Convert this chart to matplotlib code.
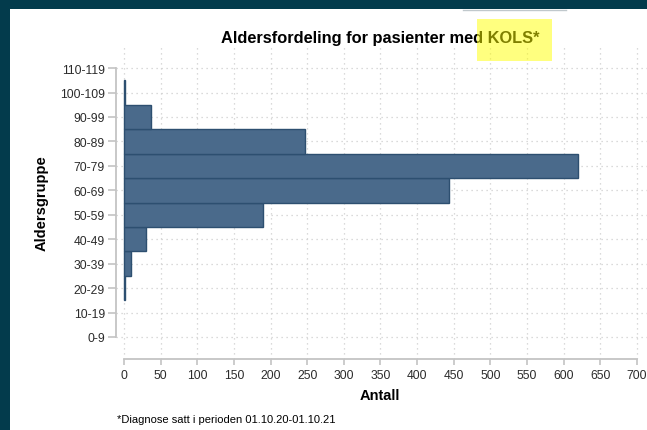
import matplotlib
matplotlib.use("Agg")
import matplotlib.pyplot as plt
from matplotlib.patches import Rectangle
from matplotlib.lines import Line2D

plt.rcParams['font.family'] = ['Liberation Sans', 'DejaVu Sans']

# ---- data ----
age_groups = ["0-9", "10-19", "20-29", "30-39", "40-49", "50-59",
              "60-69", "70-79", "80-89", "90-99", "100-109", "110-119"]
counts = [0, 0, 1, 9, 30, 190, 444, 619, 247, 37, 1, 0]
x_ticks = list(range(0, 701, 50))

title = "Aldersfordeling for pasienter med KOLS*"
xlabel = "Antall"
ylabel = "Aldersgruppe"
footnote = "*Diagnose satt i perioden 01.10.20-01.10.21"

W, H = 647, 431
fig = plt.figure(figsize=(W / 100, H / 100), dpi=100)
fig.patch.set_facecolor("white")

def fx(px):
    return px / W

def fy(py):
    return 1 - py / H

# axes placement (pixel coords)
left_px, right_px, top_px, bottom_px = 116, 647, 45, 360
ax = fig.add_axes([fx(left_px), fy(bottom_px), (right_px - left_px) / W, (bottom_px - top_px) / H])

xscale = 0.7327   # px per unit
x0_px = 124
yspace = 24.45
y0_px = 338
ax.set_xlim((left_px - x0_px) / xscale, (right_px - x0_px) / xscale)
ax.set_ylim((y0_px - bottom_px) / yspace, (y0_px - top_px) / yspace)

ypos = list(range(len(age_groups)))
edges = ["#2d4f70" if c > 0 else "none" for c in counts]
ax.barh(ypos, counts, height=1.0, color="#4a6a8b", edgecolor=edges, linewidth=1.0, zorder=3)

ax.set_xticks(x_ticks)
ax.set_yticks(ypos)
ax.set_yticklabels(age_groups)

ax.grid(True, linestyle=(0, (1, 3)), color="#cfcfcf", linewidth=0.9, zorder=0)
ax.set_axisbelow(True)

for s in ["top", "right"]:
    ax.spines[s].set_visible(False)
for s in ["left", "bottom"]:
    ax.spines[s].set_color("#c4c4c4")
    ax.spines[s].set_linewidth(1.3)
ax.spines["bottom"].set_bounds(0, 700)
ax.spines["left"].set_bounds(0, len(age_groups) - 1)

ax.tick_params(axis="x", direction="out", length=4, width=1.2, color="#c4c4c4",
               labelsize=8.7, labelcolor="#2b2b2b", pad=3)
ax.tick_params(axis="y", direction="out", length=6, width=1.2, color="#c4c4c4",
               labelsize=8.7, labelcolor="#2b2b2b", pad=2)

# texts
fig.text(fx(380), fy(38), title, ha="center", va="center", fontsize=11.8,
         fontweight="bold", color="black")
fig.text(fx(42), fy(203), ylabel, ha="center", va="center", rotation=90,
         fontsize=10.5, fontweight="bold", color="black")
fig.text(fx(380), fy(396), xlabel, ha="center", va="center", fontsize=10.5,
         fontweight="bold", color="black")
fig.text(fx(117), fy(420), footnote, ha="left", va="center", fontsize=8, color="black")

# yellow highlight over "KOLS*"
fig.add_artist(Rectangle((fx(477), fy(62)), (552 - 477) / W, (62 - 20) / H,
                         transform=fig.transFigure, facecolor="#ffff00", alpha=0.5,
                         edgecolor="none", zorder=10))

# dark frame on left and top
frame_col = "#033b4c"
fig.add_artist(Rectangle((0, 0), fx(10), 1, transform=fig.transFigure,
                         facecolor=frame_col, edgecolor="none", zorder=11))
fig.add_artist(Rectangle((0, fy(10)), 1, 10 / H, transform=fig.transFigure,
                         facecolor=frame_col, edgecolor="none", zorder=11))
fig.add_artist(Line2D([fx(463), fx(566)], [fy(11), fy(11)], transform=fig.transFigure,
                      color="#c0c8cc", linewidth=1.0, zorder=11))

fig.savefig("out.png", dpi=100)
